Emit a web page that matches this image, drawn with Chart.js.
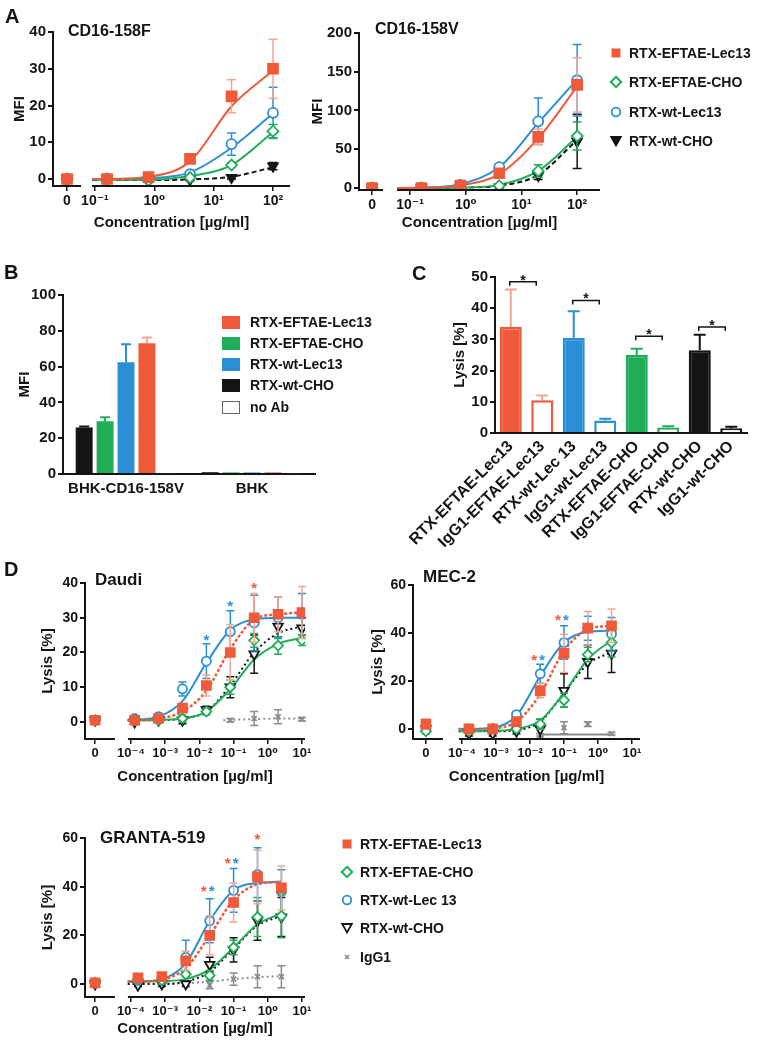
<!doctype html>
<html lang="en">
<head>
<meta charset="utf-8">
<title>RTX variants - binding and ADCC</title>
<script src="https://cdn.jsdelivr.net/npm/chart.js@4.4.1/dist/chart.umd.min.js"></script>
<style>
  body { margin:0; background:#fff; width:773px; height:1042px; position:relative; overflow:hidden;
         font-family:'Liberation Sans', Arial, sans-serif; color:#141414; }
  canvas { position:absolute; }
  .t { position:absolute; font-weight:bold; white-space:nowrap; }
  .lg { position:absolute; font-weight:bold; white-space:nowrap; display:flex; align-items:center; }
  .lg svg { margin-right:6px; }
</style>
</head>
<body>
<script>
const FONT = "'Liberation Sans', Arial, 'DejaVu Sans', sans-serif";
const RED = '#ef5a3a', RED_LT = '#f5a691', GREEN = '#20ad57', BLUE = '#2b8fd6', BLACK = '#141414', GRAY = '#8c8c8c';

// ---------- A: binding to CD16-158F / CD16-158V (MFI) ----------
const aConc = [0, 0.16, 0.8, 4, 20, 100];
const aFitConcF = [0.09, 0.16, 0.8, 4, 20, 100];
const aFitConcV = [0.06, 0.16, 0.8, 4, 20, 100];

const f_eLec = [0, 0, 0.5, 5.5, 22.5, 30];
const f_eLecErr = [0.6, 0.4, 0.4, 0.6, 4.5, 8];
const f_eLecFit = [0, 0, 0.6, 4.8, 19.8, 29.5];
const f_eCho = [0, 0, -0.4, 0.4, 3.8, 13];
const f_eChoErr = [0.4, 0.3, 0.3, 0.4, 0.6, 1.8];
const f_eChoFit = [-0.2, -0.2, -0.2, 0.8, 3.8, 12.8];
const f_wLec = [0, 0, 0, 1.3, 9.5, 18];
const f_wLecErr = [0.4, 0.3, 0.3, 0.5, 3, 7];
const f_wLecFit = [0, 0, 0.2, 1.8, 8.5, 17.8];
const f_wCho = [0, 0, -0.3, -0.2, 0.4, 3.5];
const f_wChoErr = [0.3, 0.3, 0.3, 0.3, 0.4, 1];
const f_wChoFit = [-0.3, -0.3, -0.3, -0.1, 0.6, 3.2];

const v_eLec = [0, 0, 3, 19, 66, 133];
const v_eLecErr = [2, 2, 2, 3, 10, 35];
const v_eLecFit = [0, 0, 3.5, 18, 64, 131];
const v_eCho = [0, 0, 0, 3, 22, 67];
const v_eChoErr = [1, 1, 1, 2, 8, 18];
const v_eChoFit = [0, 0, 0.5, 4, 22, 66];
const v_wLec = [0, 0, 4, 27, 86, 139];
const v_wLecErr = [2, 2, 2, 4, 30, 46];
const v_wLecFit = [0, 0.5, 5, 27, 84, 140];
const v_wCho = [0, 0, 0, 1, 16, 60];
const v_wChoErr = [1, 1, 1, 1, 5, 35];
const v_wChoFit = [0, 0, 0.5, 3, 17, 62];

const aNames = ['RTX-EFTAE-Lec13', 'RTX-EFTAE-CHO', 'RTX-wt-Lec13', 'RTX-wt-CHO'];
const aTicks = ['0', '10⁻¹', '10⁰', '10¹', '10²'];

// ---------- B: binding on BHK cells ----------
const bGroups = ['BHK-CD16-158V', 'BHK'];
const bNames = ['RTX-EFTAE-Lec13', 'RTX-EFTAE-CHO', 'RTX-wt-Lec13', 'RTX-wt-CHO', 'no Ab'];
const bWtCho = [26, 1.0], bWtChoErr = [0.6, 0];
const bEftaeCho = [29.5, 0.9], bEftaeChoErr = [2.2, 0];
const bWtLec = [62.5, 0.9], bWtLecErr = [10, 0];
const bEftaeLec = [73, 0.9], bEftaeLecErr = [3.2, 0];
const bNoAb = [0.4, 0.4];

// ---------- C: lysis, RTX vs IgG1 ----------
const cLabels = ['RTX-EFTAE-Lec13', 'IgG1-EFTAE-Lec13', 'RTX-wt-Lec 13', 'IgG1-wt-Lec13',
                 'RTX-EFTAE-CHO', 'IgG1-EFTAE-CHO', 'RTX-wt-CHO', 'IgG1-wt-CHO'];
const cLysis = [34, 10.5, 30.5, 4, 25, 1.8, 26.5, 1.5];
const cLysisErr = [12, 1.5, 8.5, 0.6, 2, 0.4, 5, 0.5];
const cPairs = [[0, 1], [2, 3], [4, 5], [6, 7]];
const cPairLevel = [48.5, 42.5, 31, 34];

// ---------- D: ADCC dose response ----------
const dNames = ['RTX-EFTAE-Lec13', 'RTX-EFTAE-CHO', 'RTX-wt-Lec 13', 'RTX-wt-CHO', 'IgG1'];
const dTicks = ['0', '10⁻⁴', '10⁻³', '10⁻²', '10⁻¹', '10⁰', '10¹'];

const dauConc = [0, 0.000128, 0.00064, 0.0032, 0.016, 0.08, 0.4, 2, 10];
const dauFitConc = [0.00008, 0.000128, 0.00064, 0.0032, 0.016, 0.08, 0.4, 2, 10];
const dau_eLec = [0.5, 0.5, 1, 4, 10.5, 20, 30, 31, 31.5];
const dau_eLecErr = [1, 0.5, 0.5, 1, 3, 8, 7, 5, 7.5];
const dau_eLecFit = [0.5, 0.5, 1, 3, 9, 21, 29.5, 31, 31.5];
const dau_eCho = [0.5, 0.5, 0.5, 1, 3, 10, 23.5, 22, 23.5];
const dau_eChoErr = [0.5, 0.5, 0.5, 1, 1, 2, 2, 2.5, 1.5];
const dau_eChoFit = [0.5, 0.5, 0.6, 1, 3, 9.5, 18, 22.5, 24.2];
const dau_wLec = [0.5, 1, 1.5, 9.5, 17.5, 26, 28.5, 30, 31];
const dau_wLecErr = [1, 0.5, 1, 2, 5, 6, 8, 6, 6];
const dau_wLecFit = [0.5, 0.6, 1.5, 6, 17, 26.5, 29.5, 30, 30];
const dau_wCho = [0.5, 0, 0.5, 0.5, 3.5, 10, 19.5, 27.5, 27];
const dau_wChoErr = [0.5, 0.5, 0.5, 1, 1, 3, 5.5, 3, 3];
const dau_wChoFit = [0.5, 0.5, 0.5, 1, 3, 10.5, 20, 25.5, 27.5];
const dau_igg = [0.5, null, null, null, null, 0.5, 1, 1.5, 0.8];
const dau_iggErr = [0.5, 0, 0, 0, 0, 0.5, 2, 2, 0.5];
const dauIggFitConc = [0.05, 0.08, 0.4, 2, 10];
const dau_iggFit = [0.5, 0.6, 0.8, 1, 1];
const dauStarConc = [0.016, 0.08, 0.4];
const dauStarLevel = [24.5, 34.5, 39.5];
const dauStarColor = [BLUE, BLUE, RED];
const dauStarSide = [0, 0, 0];

const gConc = [0, 0.00016, 0.0008, 0.004, 0.02, 0.1, 0.5, 2.5];
const gFitConc = [0.00008, 0.00016, 0.0008, 0.004, 0.02, 0.1, 0.5, 2.5];

const mec_eLec = [2, 0, 0, 3, 16, 31.5, 42, 43];
const mec_eLecErr = [2, 1, 1, 1.5, 3, 8, 7, 7];
const mec_eLecFit = [0, 0, 0.3, 3, 14.5, 32.5, 41.5, 43];
const mec_eCho = [-1, -1, 0, 0, 2, 12, 31, 36];
const mec_eChoErr = [1, 1, 1, 1, 2, 3, 3, 6];
const mec_eChoFit = [-1, -1, -0.8, 0, 3.5, 15, 29, 37];
const mec_wLec = [0, 0, 0, 6, 23, 36, 42, 39.5];
const mec_wLecErr = [1, 1, 1, 1, 4, 7, 5, 7];
const mec_wLecFit = [0, 0, 0.5, 5.5, 22, 36, 40.5, 41];
const mec_wCho = [0, -2, -2, -1, 0, 16, 28, 31.5];
const mec_wChoErr = [1, 1, 1, 1, 4, 7, 7, 8];
const mec_wChoFit = [-1, -1, -1, -0.5, 3, 15, 27, 32];
const mec_igg = [-1, null, null, null, -2.5, 0.5, 2, -2];
const mec_iggErr = [1, 0, 0, 0, 0.5, 2.5, 1, 0.5];
const mecIggFitConc = [0.02, 0.1, 0.5, 2.5];
const mec_iggFit = [-2.3, -2.3, -2.3, -2.3];
const mecStarConc = [0.02, 0.02, 0.1, 0.1];
const mecStarLevel = [30, 30, 47, 47];
const mecStarColor = [RED, BLUE, RED, BLUE];
const mecStarSide = [-1, 1, -1, 1];

const gr_eLec = [0.5, 2.5, 3, 9.5, 20, 33.5, 44, 39.5];
const gr_eLecErr = [1, 1, 1, 4, 8, 8, 11, 9];
const gr_eLecFit = [1, 1, 1.8, 6.5, 20, 34.5, 41, 42];
const gr_eCho = [0.5, 2, 1.5, 4, 3.5, 15, 27.5, 28];
const gr_eChoErr = [1, 1.5, 1, 1, 2, 3, 8, 9];
const gr_eChoFit = [1, 1, 1.2, 2, 6, 15, 24.5, 29];
const gr_wLec = [0.5, 1.5, 2, 11, 26, 38.5, 45, 38];
const gr_wLecErr = [1, 1, 2, 7, 9, 9, 11, 9];
const gr_wLecFit = [1, 1, 2, 8.5, 26, 38.5, 41.5, 42];
const gr_wCho = [0, -0.5, 0, 0, 8, 14, 26, 27.5];
const gr_wChoErr = [0.5, 0.5, 1, 1, 3, 5, 8, 8];
const gr_wChoFit = [0, 0, 0, 1, 5, 14.5, 24, 28];
const gr_igg = [null, null, null, null, -0.5, 2, 3, 3];
const gr_iggErr = [0, 0, 0, 0, 1.5, 2.5, 4.5, 4.5];
const grIggFitConc = [0.0008, 0.004, 0.02, 0.1, 0.5, 2.5];
const gr_iggFit = [0, 0.3, 1, 2, 2.8, 3.2];
const grStarConc = [0.02, 0.02, 0.1, 0.1, 0.5];
const grStarLevel = [39.5, 39.5, 51, 51, 61];
const grStarColor = [RED, BLUE, RED, BLUE, RED];
const grStarSide = [-1, 1, -1, 1, 0];

// ---------------------------------------------------------------
Chart.defaults.font.family = FONT;
Chart.defaults.font.weight = 'bold';
Chart.defaults.color = '#141414';
Chart.defaults.plugins.legend.display = false;
Chart.defaults.plugins.tooltip.enabled = false;

// error bars drawn just before each dataset
const errorBars = {
  id: 'errorBars',
  beforeDatasetDraw(chart, args) {
    const ds = chart.data.datasets[args.index];
    if (!ds.err) return;
    const ctx = chart.ctx, ys = chart.scales.y;
    ctx.save();
    ctx.lineWidth = ds.errWidth || 1.5;
    args.meta.data.forEach((el, i) => {
      const raw = ds.data[i];
      const v = (raw !== null && typeof raw === 'object') ? raw.y : raw;
      const e = ds.err[i];
      if (v == null || !e) return;
      const half = ds.cap || 4;
      const yT = ys.getPixelForValue(v + e);
      const yB = ds.upOnly ? el.y : ys.getPixelForValue(v - e);
      ctx.strokeStyle = Array.isArray(ds.errColor) ? ds.errColor[i] : ds.errColor;
      ctx.beginPath();
      ctx.moveTo(el.x, yB); ctx.lineTo(el.x, yT);
      ctx.moveTo(el.x - half, yT); ctx.lineTo(el.x + half, yT);
      if (!ds.upOnly) { ctx.moveTo(el.x - half, yB); ctx.lineTo(el.x + half, yB); }
      ctx.stroke();
    });
    ctx.restore();
  }
};

// x axis with a break between the "0" dose and the log range
const brokenAxis = {
  id: 'brokenAxis',
  afterDraw(chart, args, opts) {
    if (opts.from == null) return;
    const {ctx, chartArea: a} = chart, xs = chart.scales.x;
    ctx.save();
    ctx.strokeStyle = '#141414'; ctx.lineWidth = 2;
    ctx.beginPath();
    ctx.moveTo(a.left - 1, a.bottom); ctx.lineTo(xs.getPixelForValue(opts.from), a.bottom);
    ctx.moveTo(xs.getPixelForValue(opts.to), a.bottom); ctx.lineTo(a.right, a.bottom);
    ctx.stroke();
    ctx.restore();
  }
};

// significance asterisks at (dose, level)
const stars = {
  id: 'stars',
  afterDatasetsDraw(chart, args, opts) {
    if (!opts.conc) return;
    const ctx = chart.ctx, xs = chart.scales.x, ys = chart.scales.y;
    ctx.save();
    ctx.font = 'bold 15px ' + FONT; ctx.textAlign = 'center'; ctx.textBaseline = 'alphabetic';
    opts.conc.forEach((c, i) => {
      ctx.fillStyle = opts.color[i];
      const x = xs.getPixelForValue(Math.log10(c)) + opts.side[i] * 4 - (opts.side[i] ? 2 : 0);
      ctx.fillText('*', x, ys.getPixelForValue(opts.level[i]) + 8.5);
    });
    ctx.restore();
  }
};

// brackets with asterisks between paired bars
const brackets = {
  id: 'brackets',
  afterDatasetsDraw(chart, args, opts) {
    if (!opts.pairs) return;
    const ctx = chart.ctx, ys = chart.scales.y, bars = chart.getDatasetMeta(0).data;
    ctx.save();
    ctx.strokeStyle = '#141414'; ctx.fillStyle = '#141414'; ctx.lineWidth = 1.5;
    ctx.font = 'bold 14px ' + FONT; ctx.textAlign = 'center'; ctx.textBaseline = 'alphabetic';
    opts.pairs.forEach((p, k) => {
      const x1 = bars[p[0]].x - 1, x2 = bars[p[1]].x - 6, y = ys.getPixelForValue(opts.levels[k]);
      ctx.beginPath();
      ctx.moveTo(x1, y + 4); ctx.lineTo(x1, y); ctx.lineTo(x2, y); ctx.lineTo(x2, y + 4);
      ctx.stroke();
      ctx.fillText('*', (x1 + x2) / 2, y + 3);
    });
    ctx.restore();
  }
};

function canvasAt(l, t, w, h) {
  const cv = document.createElement('canvas');
  cv.width = w; cv.height = h;
  cv.style.left = l + 'px'; cv.style.top = t + 'px';
  document.body.appendChild(cv);
  return cv;
}

function txt(s, x, yc, size, color) {
  const d = document.createElement('div');
  d.className = 't'; d.textContent = s;
  d.style.left = x + 'px'; d.style.top = (yc - size * 0.6) + 'px';
  d.style.fontSize = size + 'px'; d.style.lineHeight = (size * 1.2) + 'px';
  if (color) d.style.color = color;
  document.body.appendChild(d);
}

function markerSvg(kind, color, fill) {
  const shapes = {
    rect: `<rect x="2.5" y="2.5" width="9" height="9" fill="${color}"/>`,
    rectRot: `<polygon points="7,1.8 12.2,7 7,12.2 1.8,7" fill="${fill}" stroke="${color}" stroke-width="2"/>`,
    circle: `<circle cx="7" cy="7" r="4.3" fill="${fill}" stroke="${color}" stroke-width="1.8"/>`,
    triangle: `<polygon points="2.2,3 11.8,3 7,11.5" fill="${fill}" stroke="${color}" stroke-width="1.8"/>`,
    crossRot: `<path d="M5 5L9 9M9 5L5 9" stroke="${color}" stroke-width="1.6"/>`,
    box: `<rect x="0.5" y="0.5" width="17" height="12" fill="${fill}" stroke="${color}"/>`
  };
  const w = kind === 'box' ? 18 : 14, h = kind === 'box' ? 13 : 14;
  return `<svg width="${w}" height="${h}" viewBox="0 0 ${w} ${h}">${shapes[kind]}</svg>`;
}

function legend(x, rowsY, names, styles, size, gap) {
  names.forEach((n, i) => {
    const d = document.createElement('div');
    d.className = 'lg';
    d.style.left = x + 'px'; d.style.top = (rowsY[i] - 8) + 'px'; d.style.height = '16px';
    d.style.fontSize = size + 'px';
    d.innerHTML = markerSvg(styles[i].marker, styles[i].color, styles[i].fill) + `<span>${n}</span>`;
    d.querySelector('svg').style.marginRight = gap + 'px';
    document.body.appendChild(d);
  });
}

const xPos = (c, zero) => c === 0 ? zero : Math.log10(c);

const STY = {
  eLec: {color: RED, fill: RED, errColor: RED_LT, marker: 'rect'},
  eCho: {color: GREEN, fill: '#fff', errColor: GREEN, marker: 'rectRot'},
  wLec: {color: BLUE, fill: '#fff', errColor: BLUE, marker: 'circle'},
  wChoA: {color: BLACK, fill: BLACK, errColor: BLACK, marker: 'triangle', rot: 180, dash: [5, 3]},
  wChoD: {color: BLACK, fill: '#fff', errColor: BLACK, marker: 'triangle', rot: 180, dash: [2, 3]},
  igg: {color: GRAY, fill: GRAY, errColor: GRAY, marker: 'crossRot', dash: [2, 3]}
};

function S(st, r, conc, y, err, fitConc, fit, extra) {
  return Object.assign({}, st, {r, conc, y, err, fitConc, fit}, extra || {});
}

function makeDose(box, ax, series, starOpts) {
  const cv = canvasAt(box.l, box.t, box.w, box.h);
  const datasets = [];
  series.forEach(s => {
    datasets.push({
      type: 'line',
      data: s.fitConc.map((c, i) => ({x: xPos(c, ax.zero), y: s.fit[i]})),
      borderColor: s.lineColor || s.color, borderWidth: s.lw || 2, borderDash: s.dash || [],
      pointRadius: 0, cubicInterpolationMode: 'monotone', fill: false, order: 2
    });
    datasets.push({
      type: 'scatter',
      data: s.conc.map((c, i) => ({x: xPos(c, ax.zero), y: s.y[i]})),
      err: s.err, errColor: s.errColor, cap: ax.cap,
      pointStyle: s.marker, pointRotation: s.rot || 0, pointRadius: s.r,
      pointBorderWidth: 1.8, pointBackgroundColor: s.fill, pointBorderColor: s.color,
      backgroundColor: s.fill, borderColor: s.color, order: 1
    });
  });
  return new Chart(cv, {
    type: 'scatter',
    data: {datasets},
    plugins: [errorBars, brokenAxis, stars],
    options: {
      responsive: false, animation: false, devicePixelRatio: 1,
      layout: {padding: {top: box.padT, right: box.padR, left: 0, bottom: 0}},
      plugins: {brokenAxis: {from: ax.gapFrom, to: ax.gapTo}, stars: starOpts || {}},
      scales: {
        x: {
          type: 'linear', min: ax.xMin, max: ax.xMax,
          afterBuildTicks: s => { s.ticks = ax.xTicks.map(v => ({value: v})); },
          afterFit: s => { s.height = box.xH; },
          ticks: {autoSkip: false, maxRotation: 0, padding: 2, font: {size: ax.xfs},
                  callback: (v, i) => ax.xLabels[i]},
          grid: {drawOnChartArea: false, tickLength: 5, color: '#141414', lineWidth: 1.5},
          border: {display: false},
          title: {display: true, text: 'Concentration [µg/ml]', font: {size: 15, weight: 'bold'},
                  padding: {top: 0, bottom: 0}}
        },
        y: {
          type: 'linear', min: ax.yMin, max: ax.yMax,
          afterBuildTicks: s => { s.ticks = ax.yTicks.map(v => ({value: v})); },
          afterFit: s => { s.width = box.yW; },
          ticks: {padding: 2, font: {size: ax.yfs}},
          grid: {drawOnChartArea: false, tickLength: 5, color: '#141414', lineWidth: 2},
          border: {display: true, color: '#141414', width: 2},
          title: {display: true, text: ax.yTitle, font: {size: 15, weight: 'bold'},
                  padding: {top: box.yTitlePad, bottom: 0}}
        }
      }
    }
  });
}

// ---------------- Panel A ----------------
const aStyles = [STY.eLec, STY.eCho, STY.wLec, STY.wChoA];
makeDose({l: 0, t: 18, w: 300, h: 214, padT: 14, padR: 10, yW: 53, xH: 46, yTitlePad: 11},
  {xMin: -1.706, xMax: 2.286, zero: -1.47, gapFrom: -1.235, gapTo: -1.05,
   xTicks: [-1.47, -1, 0, 1, 2], xLabels: aTicks, xfs: 14,
   yMin: -1.9, yMax: 40, yTicks: [0, 10, 20, 30, 40], yfs: 15, yTitle: 'MFI', cap: 4.5},
  [S(STY.eLec, 7, aConc, f_eLec, f_eLecErr, aFitConcF, f_eLecFit),
   S(STY.eCho, 5.5, aConc, f_eCho, f_eChoErr, aFitConcF, f_eChoFit),
   S(STY.wLec, 5, aConc, f_wLec, f_wLecErr, aFitConcF, f_wLecFit),
   S(STY.wChoA, 5.5, aConc, f_wCho, f_wChoErr, aFitConcF, f_wChoFit)]);

makeDose({l: 300, t: 18, w: 310, h: 214, padT: 15, padR: 10, yW: 59, xH: 42, yTitlePad: 9},
  {xMin: -1.916, xMax: 2.41, zero: -1.68, gapFrom: -1.485, gapTo: -1.233,
   xTicks: [-1.68, -1, 0, 1, 2], xLabels: aTicks, xfs: 14,
   yMin: -2.6, yMax: 200, yTicks: [0, 50, 100, 150, 200], yfs: 15, yTitle: 'MFI', cap: 4.5},
  [S(STY.eLec, 7, aConc, v_eLec, v_eLecErr, aFitConcV, v_eLecFit),
   S(STY.eCho, 5.5, aConc, v_eCho, v_eChoErr, aFitConcV, v_eChoFit),
   S(STY.wLec, 5, aConc, v_wLec, v_wLecErr, aFitConcV, v_wLecFit),
   S(STY.wChoA, 5.5, aConc, v_wCho, v_wChoErr, aFitConcV, v_wChoFit)]);

txt('A', 5, 16, 20);
txt('CD16-158F', 68, 31, 16);
txt('CD16-158V', 375, 29, 16);
legend(609, [53, 82, 112, 141], aNames, aStyles, 14, 6);

// ---------------- Panel B ----------------
(function () {
  const cv = canvasAt(0, 280, 325, 220);
  const mk = (label, data, err, bg, border) => ({
    label, data, err, errColor: border, upOnly: true, cap: 5, errWidth: 2,
    backgroundColor: bg, borderColor: border, borderWidth: bg === '#fff' ? 1.2 : 0,
    categoryPercentage: 0.83, barPercentage: 0.81
  });
  new Chart(cv, {
    type: 'bar',
    data: {
      labels: bGroups,
      datasets: [
        mk('RTX-wt-CHO', bWtCho, bWtChoErr, BLACK, BLACK),
        mk('RTX-EFTAE-CHO', bEftaeCho, bEftaeChoErr, GREEN, GREEN),
        mk('RTX-wt-Lec13', bWtLec, bWtLecErr, BLUE, BLUE),
        mk('RTX-EFTAE-Lec13', bEftaeLec, bEftaeLecErr, RED, RED_LT),
        mk('no Ab', bNoAb, [0, 0], '#fff', '#444')
      ]
    },
    plugins: [errorBars],
    options: {
      responsive: false, animation: false, devicePixelRatio: 1,
      layout: {padding: {top: 15, right: 10, left: 0, bottom: 0}},
      scales: {
        x: {grid: {display: false, drawTicks: false}, border: {display: true, color: '#141414', width: 2},
            ticks: {padding: 6, font: {size: 15}}, afterFit: s => { s.height = 26; }},
        y: {min: 0, max: 100, ticks: {stepSize: 20, padding: 2, font: {size: 15}},
            grid: {drawOnChartArea: false, tickLength: 5, color: '#141414', lineWidth: 2},
            border: {display: true, color: '#141414', width: 2},
            title: {display: true, text: 'MFI', font: {size: 15, weight: 'bold'}, padding: {top: 16, bottom: 0}},
            afterFit: s => { s.width = 63; }}
      }
    }
  });
  txt('B', 4, 272, 20);
  const bStyles = [
    {marker: 'box', color: RED, fill: RED}, {marker: 'box', color: GREEN, fill: GREEN},
    {marker: 'box', color: BLUE, fill: BLUE}, {marker: 'box', color: BLACK, fill: BLACK},
    {marker: 'box', color: '#666', fill: '#fff'}
  ];
  legend(222, [322, 343, 364, 385, 407], bNames, bStyles, 14, 10);
})();

// ---------------- Panel C ----------------
(function () {
  const cv = canvasAt(360, 262, 400, 338);
  const fills = [RED, '#fff', BLUE, '#fff', GREEN, '#fff', BLACK, '#fff'];
  const borders = [RED, RED, BLUE, BLUE, GREEN, GREEN, BLACK, BLACK];
  const errCols = [RED_LT, RED_LT, BLUE, BLUE, GREEN, GREEN, BLACK, BLACK];
  new Chart(cv, {
    type: 'bar',
    data: {
      labels: cLabels,
      datasets: [{
        data: cLysis, err: cLysisErr, errColor: errCols, upOnly: true, cap: 6, errWidth: 2,
        backgroundColor: fills, borderColor: borders, borderWidth: 2.5,
        categoryPercentage: 0.8, barPercentage: 0.875
      }]
    },
    plugins: [errorBars, brackets],
    options: {
      responsive: false, animation: false, devicePixelRatio: 1,
      layout: {padding: {top: 15, right: 13, left: 0, bottom: 0}},
      plugins: {brackets: {pairs: cPairs, levels: cPairLevel}},
      scales: {
        x: {grid: {display: false, drawTicks: false}, border: {display: true, color: '#141414', width: 2},
            ticks: {padding: 4, minRotation: 45, maxRotation: 45, autoSkip: false, font: {size: 16}},
            afterFit: s => { s.height = 167; }},
        y: {min: 0, max: 50, ticks: {stepSize: 10, padding: 2, font: {size: 15}},
            grid: {drawOnChartArea: false, tickLength: 5, color: '#141414', lineWidth: 2},
            border: {display: true, color: '#141414', width: 2},
            title: {display: true, text: 'Lysis [%]', font: {size: 15, weight: 'bold'}, padding: {top: 91, bottom: 0}},
            afterFit: s => { s.width = 135; }}
      }
    }
  });
  txt('C', 412, 273, 20);
})();

// ---------------- Panel D ----------------
const dStyles = [STY.eLec, STY.eCho, STY.wLec, STY.wChoD, STY.igg];
const redD = {dash: [3, 2], lw: 2.5};

makeDose({l: 0, t: 565, w: 315, h: 221, padT: 18, padR: 10, yW: 85, xH: 47, yTitlePad: 39},
  {xMin: -5.345, xMax: 1.088, zero: -5.05, gapFrom: -4.47, gapTo: -4.09,
   xTicks: [-5.05, -4, -3, -2, -1, 0, 1], xLabels: dTicks, xfs: 13,
   yMin: -4.9, yMax: 40, yTicks: [0, 10, 20, 30, 40], yfs: 14, yTitle: 'Lysis [%]', cap: 4},
  [S(STY.eLec, 6.3, dauConc, dau_eLec, dau_eLecErr, dauFitConc, dau_eLecFit, redD),
   S(STY.eCho, 5, dauConc, dau_eCho, dau_eChoErr, dauFitConc, dau_eChoFit),
   S(STY.wLec, 4.5, dauConc, dau_wLec, dau_wLecErr, dauFitConc, dau_wLecFit),
   S(STY.wChoD, 5.5, dauConc, dau_wCho, dau_wChoErr, dauFitConc, dau_wChoFit),
   S(STY.igg, 3.5, dauConc, dau_igg, dau_iggErr, dauIggFitConc, dau_iggFit)],
  {conc: dauStarConc, level: dauStarLevel, color: dauStarColor, side: dauStarSide});

makeDose({l: 330, t: 565, w: 320, h: 221, padT: 20, padR: 10, yW: 83, xH: 47, yTitlePad: 39},
  {xMin: -5.44, xMax: 1.235, zero: -5.06, gapFrom: -4.56, gapTo: -4.09,
   xTicks: [-5.06, -4, -3, -2, -1, 0, 1], xLabels: dTicks, xfs: 13,
   yMin: -4.2, yMax: 60, yTicks: [0, 20, 40, 60], yfs: 14, yTitle: 'Lysis [%]', cap: 4},
  [S(STY.eLec, 6.3, gConc, mec_eLec, mec_eLecErr, gFitConc, mec_eLecFit, redD),
   S(STY.eCho, 5, gConc, mec_eCho, mec_eChoErr, gFitConc, mec_eChoFit),
   S(STY.wLec, 4.5, gConc, mec_wLec, mec_wLecErr, gFitConc, mec_wLecFit),
   S(STY.wChoD, 5.5, gConc, mec_wCho, mec_wChoErr, gFitConc, mec_wChoFit),
   S(STY.igg, 3.5, gConc, mec_igg, mec_iggErr, mecIggFitConc, mec_iggFit, {dash: []})],
  {conc: mecStarConc, level: mecStarLevel, color: mecStarColor, side: mecStarSide});

makeDose({l: 0, t: 820, w: 315, h: 218, padT: 18, padR: 10, yW: 85, xH: 41, yTitlePad: 39},
  {xMin: -5.345, xMax: 1.088, zero: -5.05, gapFrom: -4.47, gapTo: -4.09,
   xTicks: [-5.05, -4, -3, -2, -1, 0, 1], xLabels: dTicks, xfs: 13,
   yMin: -5.34, yMax: 60, yTicks: [0, 20, 40, 60], yfs: 14, yTitle: 'Lysis [%]', cap: 4},
  [S(STY.eLec, 6.3, gConc, gr_eLec, gr_eLecErr, gFitConc, gr_eLecFit, redD),
   S(STY.eCho, 5, gConc, gr_eCho, gr_eChoErr, gFitConc, gr_eChoFit),
   S(STY.wLec, 4.5, gConc, gr_wLec, gr_wLecErr, gFitConc, gr_wLecFit),
   S(STY.wChoD, 5.5, gConc, gr_wCho, gr_wChoErr, gFitConc, gr_wChoFit),
   S(STY.igg, 3.5, gConc, gr_igg, gr_iggErr, grIggFitConc, gr_iggFit)],
  {conc: grStarConc, level: grStarLevel, color: grStarColor, side: grStarSide});

txt('D', 4, 569, 20);
txt('Daudi', 95, 580, 17);
txt('MEC-2', 423, 577, 17);
txt('GRANTA-519', 100, 838, 17);
legend(340, [844, 872, 900, 928, 957], dNames, dStyles, 14, 6);
</script>
</body>
</html>
